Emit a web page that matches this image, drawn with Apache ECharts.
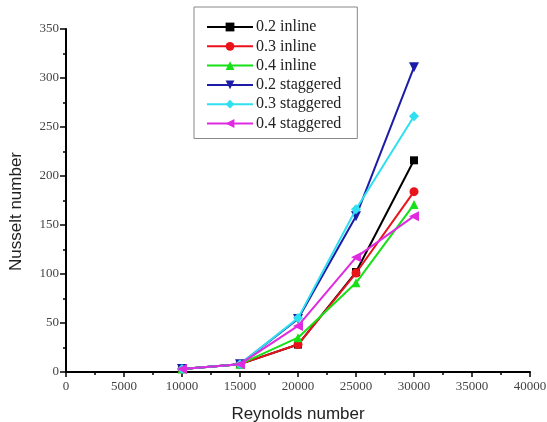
<!DOCTYPE html>
<html><head><meta charset="utf-8">
<script src="https://cdn.jsdelivr.net/npm/echarts@6/dist/echarts.min.js"></script>
<style>html,body{margin:0;padding:0;background:#fff}#c{width:547px;height:422px}</style>
</head><body><div id="c"></div>
<script>
const reynolds = [10000, 15000, 20000, 25000, 30000];
const inline02 = [3, 8, 28, 102, 216];
const inline03 = [3, 8, 28, 101, 184];
const inline04 = [3, 8, 35, 91, 171];
const staggered02 = [3, 8, 54, 159, 311];
const staggered03 = [3, 8, 55, 166, 261];
const staggered04 = [3, 8, 47, 117, 159];
const seriesNames = ['0.2 inline', '0.3 inline', '0.4 inline', '0.2 staggered', '0.3 staggered', '0.4 staggered'];
const xTicks = [0, 5000, 10000, 15000, 20000, 25000, 30000, 35000, 40000];
const yTicks = [0, 50, 100, 150, 200, 250, 300, 350];

const allData = [inline02, inline03, inline04, staggered02, staggered03, staggered04];
const colors = ['#000000', '#e8131b', '#16e016', '#1c1ca8', '#2ee0f0', '#e02ae0'];
const symbols = ['rect', 'circle', 'triangle', 'triangle', 'diamond', 'triangle'];
const rotates = [0, 0, 0, 180, 0, 90];
const sizes = [8, 9, 9, 10, 10, 10];

const chart = echarts.init(document.getElementById('c'), null, {renderer: 'canvas'});
chart.setOption({
  animation: false,
  backgroundColor: '#fff',
  grid: {left: 66, right: 17, top: 29, bottom: 50, containLabel: false, outerBoundsMode: 'none'},
  legend: {
    orient: 'vertical',
    left: 194, top: 7,
    padding: [12, 16, 7, 12],
    borderColor: '#888',
    borderWidth: 1,
    itemWidth: 46,
    itemHeight: 11,
    itemGap: 3.3,
    textStyle: {fontFamily: 'Liberation Serif', fontSize: 16, color: '#222', padding: [0, 0, 0, -2], lineHeight: 16},
    data: seriesNames
  },
  xAxis: {
    type: 'value', min: 0, max: 40000, interval: 5000,
    name: 'Reynolds number', nameLocation: 'middle', nameGap: 34,
    nameTextStyle: {fontFamily: 'Liberation Sans', fontSize: 17, color: '#222'},
    axisLine: {show: true, lineStyle: {color: '#000', width: 2}},
    axisTick: {show: true, inside: false, length: 5, lineStyle: {color: '#000', width: 1.5}},
    minorTick: {show: true, splitNumber: 2, length: 3, lineStyle: {color: '#000', width: 1.5}},
    splitLine: {show: false},
    axisLabel: {fontFamily: 'Liberation Serif', fontSize: 13, color: '#444', margin: 8,
      formatter: v => xTicks.includes(v) ? String(v) : ''}
  },
  yAxis: {
    type: 'value', min: 0, max: 350, interval: 50,
    name: 'Nusselt number', nameLocation: 'middle', nameGap: 41, nameRotate: 90,
    nameTextStyle: {fontFamily: 'Liberation Sans', fontSize: 17, color: '#222', padding: [0, 22, 0, 0]},
    axisLine: {show: true, lineStyle: {color: '#000', width: 2}},
    axisTick: {show: true, inside: false, length: 6, lineStyle: {color: '#000', width: 1.5}},
    minorTick: {show: true, splitNumber: 2, length: 3, lineStyle: {color: '#000', width: 1.5}},
    splitLine: {show: false},
    axisLabel: {fontFamily: 'Liberation Serif', fontSize: 13, color: '#444', margin: 7,
      formatter: v => yTicks.includes(v) ? String(v) : ''}
  },
  series: seriesNames.map((name, i) => ({
    name: name,
    type: 'line',
    data: reynolds.map((x, j) => [x, allData[i][j]]),
    symbol: symbols[i],
    symbolRotate: rotates[i],
    symbolSize: sizes[i],
    showAllSymbol: true,
    color: colors[i],
    lineStyle: {color: colors[i], width: 2},
    itemStyle: {color: colors[i]},
    z: 2 + i
  }))
});
</script></body></html>
